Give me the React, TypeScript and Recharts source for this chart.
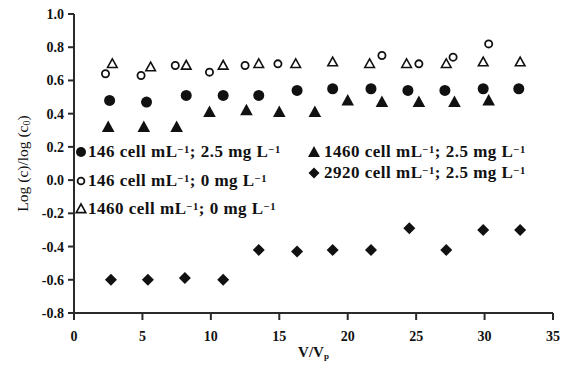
import React from 'react';
import { ScatterChart, Scatter, XAxis, YAxis, Label } from 'recharts';

// 146 cell mL-1; 2.5 mg L-1 (filled circles)
const x146Fe = [2.6, 5.3, 8.2, 10.9, 13.5, 16.3, 18.9, 21.7, 24.4, 27.1, 29.9, 32.5];
const y146Fe = [0.48, 0.47, 0.51, 0.51, 0.51, 0.54, 0.55, 0.55, 0.54, 0.54, 0.55, 0.55];
// 146 cell mL-1; 0 mg L-1 (open circles)
const x146 = [2.3, 4.9, 7.4, 9.9, 12.5, 14.9, 22.5, 25.2, 27.7, 30.3];
const y146 = [0.64, 0.63, 0.69, 0.65, 0.69, 0.7, 0.75, 0.7, 0.74, 0.82];
// 1460 cell mL-1; 0 mg L-1 (open triangles)
const x1460 = [2.8, 5.6, 8.2, 10.9, 13.5, 16.2, 18.9, 21.6, 24.3, 27.2, 29.9, 32.6];
const y1460 = [0.7, 0.68, 0.69, 0.69, 0.7, 0.7, 0.71, 0.7, 0.7, 0.7, 0.71, 0.71];
// 1460 cell mL-1; 2.5 mg L-1 (filled triangles)
const x1460Fe = [2.5, 5.1, 7.5, 9.9, 12.6, 15.0, 17.6, 20.0, 22.5, 25.2, 27.8, 30.3];
const y1460Fe = [0.32, 0.32, 0.32, 0.41, 0.42, 0.41, 0.41, 0.48, 0.47, 0.47, 0.47, 0.48];
// 2920 cell mL-1; 2.5 mg L-1 (diamonds)
const x2920Fe = [2.7, 5.4, 8.1, 10.9, 13.5, 16.3, 18.9, 21.7, 24.5, 27.2, 29.9, 32.6];
const y2920Fe = [-0.6, -0.6, -0.59, -0.6, -0.42, -0.43, -0.42, -0.42, -0.29, -0.42, -0.3, -0.3];

const xTicks = [0, 5, 10, 15, 20, 25, 30, 35];
const yTicks = [-0.8, -0.6, -0.4, -0.2, 0.0, 0.2, 0.4, 0.6, 0.8, 1.0];

const toData = (xs: number[], ys: number[]) => xs.map((x, i) => ({ x, y: ys[i] }));

const INK = '#111';
const AXIS = '#2a2a2a';

const FilledCircle = (p: any) => <circle cx={p.cx} cy={p.cy} r={5.5} fill={INK} />;
const OpenCircle = (p: any) => <circle cx={p.cx} cy={p.cy} r={3.6} fill="#fff" stroke={INK} strokeWidth={1.8} />;
const OpenTriangle = (p: any) => (
  <polygon
    points={`${p.cx},${p.cy - 5} ${p.cx + 4.8},${p.cy + 3.6} ${p.cx - 4.8},${p.cy + 3.6}`}
    fill="#fff"
    stroke={INK}
    strokeWidth={1.6}
  />
);
const FilledTriangle = (p: any) => (
  <polygon points={`${p.cx},${p.cy - 6.5} ${p.cx + 6.3},${p.cy + 5} ${p.cx - 6.3},${p.cy + 5}`} fill={INK} />
);
const Diamond = (p: any) => (
  <polygon points={`${p.cx},${p.cy - 6} ${p.cx + 6},${p.cy} ${p.cx},${p.cy + 6} ${p.cx - 6},${p.cy}`} fill={INK} />
);

const tickStyle = { fontFamily: '"Liberation Serif", serif', fontWeight: 700, fontSize: 14, fill: '#111' };

const YLab = (props: any) => {
  const vb = props.viewBox || {};
  const cy = vb.y + vb.height / 2;
  const cx = 14;
  return (
    <text
      x={cx}
      y={cy}
      transform={`rotate(-90 ${cx} ${cy})`}
      textAnchor="middle"
      dominantBaseline="central"
      style={{ fontFamily: '"Liberation Serif", serif', fontSize: 15.5, fill: '#111' }}
    >
      Log (c)/log (c<tspan fontSize={10} dy={4}>0</tspan>
      <tspan dy={-4}>)</tspan>
    </text>
  );
};

const XLab = (props: any) => {
  const vb = props.viewBox || {};
  const cx = vb.x + vb.width / 2;
  return (
    <text
      x={cx}
      y={344}
      textAnchor="middle"
      dominantBaseline="central"
      style={{ fontFamily: '"Liberation Serif", serif', fontWeight: 700, fontSize: 15, fill: '#111' }}
    >
      V/V<tspan fontSize={9} dy={4}>p</tspan>
    </text>
  );
};

const legendFont: React.CSSProperties = {
  fontFamily: '"Liberation Serif", serif',
  fontWeight: 700,
  fontSize: 17,
  letterSpacing: 0.5,
  color: '#111',
  whiteSpace: 'nowrap',
  lineHeight: '18px',
};

const Sup = ({ children }: { children: React.ReactNode }) => (
  <sup style={{ fontSize: 10.5, verticalAlign: 'top', position: 'relative', top: -2 }}>{children}</sup>
);

const LegendText = ({ cells }: { cells: string }) => (
  <span>
    {cells} cell mL<Sup>−1</Sup>;{' '}
  </span>
);

type LegendItem = { sx: number; sy: number; tx: number; kind: string; cells: string; conc: string };
const legendItems: LegendItem[] = [
  { sx: 73, sy: 144, tx: 80, kind: 'fc', cells: '146', conc: '2.5' },
  { sx: 73, sy: 173, tx: 80, kind: 'oc', cells: '146', conc: '0' },
  { sx: 73, sy: 201, tx: 80, kind: 'ot', cells: '1460', conc: '0' },
  { sx: 306, sy: 144, tx: 316, kind: 'ft', cells: '1460', conc: '2.5' },
  { sx: 306, sy: 165, tx: 316, kind: 'di', cells: '2920', conc: '2.5' },
];

const LegendSymbol = ({ kind }: { kind: string }) => {
  const c = 8;
  let el: React.ReactNode = null;
  if (kind === 'fc') el = <circle cx={c} cy={c} r={5} fill={INK} />;
  if (kind === 'oc') el = <circle cx={c} cy={c} r={3.4} fill="#fff" stroke={INK} strokeWidth={1.8} />;
  if (kind === 'ot') el = <polygon points={`${c},${c - 5} ${c + 4.8},${c + 3.6} ${c - 4.8},${c + 3.6}`} fill="#fff" stroke={INK} strokeWidth={1.6} />;
  if (kind === 'ft') el = <polygon points={`${c},${c - 6} ${c + 6},${c + 5} ${c - 6},${c + 5}`} fill={INK} />;
  if (kind === 'di') el = <polygon points={`${c},${c - 5.5} ${c + 5.5},${c} ${c},${c + 5.5} ${c - 5.5},${c}`} fill={INK} />;
  return (
    <svg width={16} height={16} style={{ display: 'block' }}>
      {el}
    </svg>
  );
};

export default function App() {
  return (
    <div style={{ position: 'relative', width: 560, height: 360 }}>
      <ScatterChart width={560} height={360} margin={{ top: 6, right: 15, bottom: 10, left: 0 }}>
        <XAxis
          type="number"
          dataKey="x"
          domain={[0, 35]}
          ticks={xTicks}
          interval={0}
          height={45}
          tickSize={7}
          tickMargin={11}
          stroke={AXIS}
          strokeWidth={2}
          tick={tickStyle}
          allowDataOverflow
        >
          <Label content={<XLab />} />
        </XAxis>
        <YAxis
          type="number"
          dataKey="y"
          domain={[-0.8, 1.0]}
          ticks={yTicks}
          interval={0}
          width={66}
          tickSize={6}
          tickMargin={4}
          stroke={AXIS}
          strokeWidth={2}
          tick={tickStyle}
          tickFormatter={(v: number) => v.toFixed(1)}
          allowDataOverflow
        >
          <Label content={<YLab />} />
        </YAxis>
        <Scatter data={toData(x146Fe, y146Fe)} shape={FilledCircle} isAnimationActive={false} />
        <Scatter data={toData(x1460Fe, y1460Fe)} shape={FilledTriangle} isAnimationActive={false} />
        <Scatter data={toData(x2920Fe, y2920Fe)} shape={Diamond} isAnimationActive={false} />
        <Scatter data={toData(x1460, y1460)} shape={OpenTriangle} isAnimationActive={false} />
        <Scatter data={toData(x146, y146)} shape={OpenCircle} isAnimationActive={false} />
      </ScatterChart>
      {legendItems.map((it, i) => (
        <React.Fragment key={i}>
          <div style={{ position: 'absolute', left: it.sx - 8, top: it.sy - 8 }}>
            <LegendSymbol kind={it.kind} />
          </div>
          <div style={{ ...legendFont, position: 'absolute', left: it.tx, top: it.sy - 9 }}>
            <LegendText cells={it.cells} />
            {it.conc} mg L<Sup>−1</Sup>
          </div>
        </React.Fragment>
      ))}
    </div>
  );
}
